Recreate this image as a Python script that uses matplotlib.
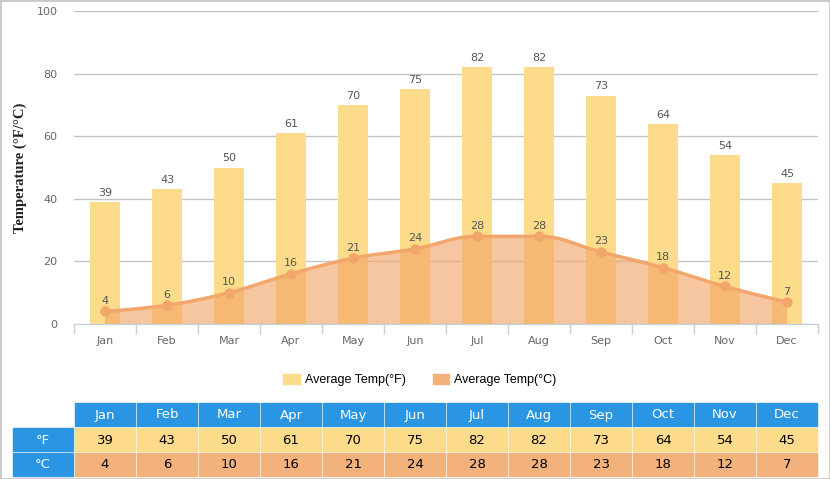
import numpy as np
import matplotlib
matplotlib.use("Agg")
import matplotlib.pyplot as plt
from matplotlib.path import Path
from matplotlib.patches import PathPatch, Patch, Rectangle

months = ["Jan", "Feb", "Mar", "Apr", "May", "Jun",
          "Jul", "Aug", "Sep", "Oct", "Nov", "Dec"]
temp_f = [39, 43, 50, 61, 70, 75, 82, 82, 73, 64, 54, 45]
temp_c = [4, 6, 10, 16, 21, 24, 28, 28, 23, 18, 12, 7]

BAR = "#FCDB8B"
LINE = "#F3A66C"
C_CELL = "#F3B27C"
HEAD = "#2A96E3"
W, H = 830, 479


def spline_path(xs, ys, close_to=None):
    # highcharts-like spline, control points clamped to avoid false extremes
    n = len(xs)
    lc = [None] * n
    rc = [None] * n
    for i in range(1, n - 1):
        px, py = xs[i], ys[i]
        lx, ly = xs[i - 1], ys[i - 1]
        nx, ny = xs[i + 1], ys[i + 1]
        lcx, lcy = (1.5 * px + lx) / 2.5, (1.5 * py + ly) / 2.5
        rcx, rcy = (1.5 * px + nx) / 2.5, (1.5 * py + ny) / 2.5
        corr = (rcy - lcy) * (rcx - px) / (rcx - lcx) + py - rcy
        lcy += corr
        rcy += corr
        if lcy > ly and lcy > py:
            lcy = max(ly, py); rcy = 2 * py - lcy
        elif lcy < ly and lcy < py:
            lcy = min(ly, py); rcy = 2 * py - lcy
        if rcy > ny and rcy > py:
            rcy = max(ny, py); lcy = 2 * py - rcy
        elif rcy < ny and rcy < py:
            rcy = min(ny, py); lcy = 2 * py - rcy
        lc[i] = (lcx, lcy)
        rc[i] = (rcx, rcy)
    verts = [(xs[0], ys[0])]
    codes = [Path.MOVETO]
    for i in range(1, n):
        a = rc[i - 1] if rc[i - 1] else (xs[i - 1], ys[i - 1])
        b = lc[i] if lc[i] else (xs[i], ys[i])
        verts += [a, b, (xs[i], ys[i])]
        codes += [Path.CURVE4] * 3
    if close_to is not None:
        verts += [(xs[-1], close_to), (xs[0], close_to), (xs[0], ys[0])]
        codes += [Path.LINETO, Path.LINETO, Path.CLOSEPOLY]
    return Path(verts, codes)


fig = plt.figure(figsize=(W / 100, H / 100), dpi=100)
fig.patches.append(Rectangle((0, 0), 1, 1, transform=fig.transFigure,
                             fill=False, edgecolor="#C8C8C8", lw=2))

ax = fig.add_axes([74 / W, (H - 324) / H, 744 / W, 313 / H])
x = np.arange(len(months))
ax.set_xlim(-0.5, len(months) - 0.5)
ax.set_ylim(0, 100)

ax.bar(x, temp_f, width=0.47, color=BAR, zorder=2)
for xi, v in zip(x, temp_f):
    ax.annotate(str(v), (xi, v), xytext=(0, 3), textcoords="offset points",
                ha="center", va="bottom", fontsize=8, color="#555555")

ax.add_patch(PathPatch(spline_path(x, temp_c, close_to=0), facecolor="#F1A466",
                       edgecolor="none", alpha=0.62, zorder=3))
ax.add_patch(PathPatch(spline_path(x, temp_c), facecolor="none",
                       edgecolor=LINE, lw=2.5, zorder=4))
ax.plot(x, temp_c, "o", color=LINE, ms=6.5, zorder=5)
for xi, v in zip(x, temp_c):
    ax.annotate(str(v), (xi, v), xytext=(0, 4), textcoords="offset points",
                ha="center", va="bottom", fontsize=8, color="#555555", zorder=6)

ax.set_yticks(range(0, 101, 20))
ax.yaxis.grid(True, color="#C4C4C4", lw=1)
ax.set_axisbelow(True)
ax.set_xticks(x)
ax.set_xticklabels(months)
ax.set_xticks(np.arange(-0.5, len(months)), minor=True)
ax.tick_params(axis="x", which="major", length=0, pad=9, labelsize=8, labelcolor="#666666")
ax.tick_params(axis="x", which="minor", length=7, color="#C0D0E0", width=1)
ax.tick_params(axis="y", length=0, pad=12, labelsize=8, labelcolor="#666666")
for s in ["top", "right", "left"]:
    ax.spines[s].set_visible(False)
ax.spines["bottom"].set_color("#C0D0E0")
ax.spines["bottom"].set_zorder(7)
ax.set_ylabel("Temperature (°F/°C)", family="Liberation Serif", fontweight="bold",
              fontsize=10.5, color="#222222", labelpad=7)

fig.legend(handles=[Patch(color=BAR, label="Average Temp(°F)"),
                    Patch(color=C_CELL, label="Average Temp(°C)")],
           loc="center", bbox_to_anchor=(420 / W, 1 - 380 / H), ncol=2,
           frameon=False, prop={"family": "Liberation Sans", "size": 9},
           handlelength=1.3, handleheight=0.9, handletextpad=0.4, columnspacing=2.2)

# data table
tab = fig.add_axes([0, 0, 1, 1])
tab.set_xlim(0, W)
tab.set_ylim(H, 0)
tab.axis("off")
rows = [(403, None, HEAD, "white", months),
        (428, "°F", BAR, "black", temp_f),
        (453, "°C", C_CELL, "black", temp_c)]
for y0, label, col, tcol, vals in rows:
    if label:
        tab.add_patch(Rectangle((13, y0), 60, 23, color=HEAD))
        tab.text(43, y0 + 12, label, ha="center", va="center", color="white",
                 fontsize=9.5)
    for i, v in enumerate(vals):
        x0 = 75 + 62 * i
        tab.add_patch(Rectangle((x0, y0), 60, 23, color=col))
        tab.text(x0 + 30, y0 + 12, str(v), ha="center", va="center",
                 color=tcol, fontsize=9.5)

fig.savefig("out.png", dpi=100)
